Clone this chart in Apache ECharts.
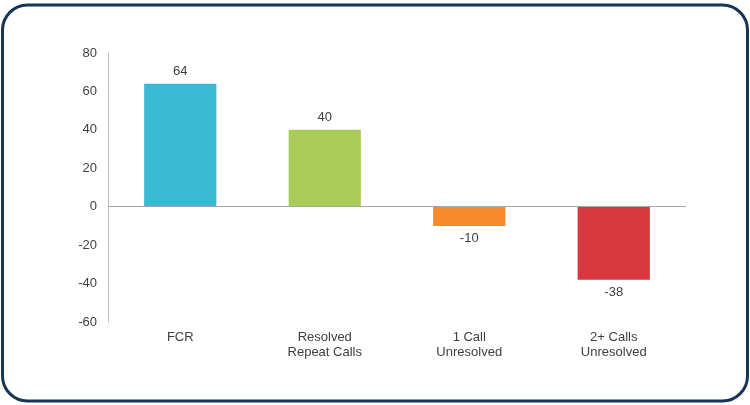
<!DOCTYPE html>
<html>
<head>
<meta charset="utf-8">
<script src="https://cdn.jsdelivr.net/npm/echarts@6/dist/echarts.min.js"></script>
<style>
html,body{margin:0;padding:0;background:#fff;}
#c{width:750px;height:405px;}
</style>
</head>
<body>
<div id="c"></div>
<script>
var categories = ['FCR', 'Resolved\nRepeat Calls', '1 Call\nUnresolved', '2+ Calls\nUnresolved'];
var values = [64, 40, -10, -38];
var colors = ['#3BB8D2', '#A9CB58', '#F68B2C', '#D7393F'];
var yTicks = { min: -60, max: 80, interval: 20 };

var chart = echarts.init(document.getElementById('c'));
chart.setOption({
  animation: false,
  backgroundColor: '#fff',
  graphic: [{
    type: 'rect',
    shape: { x: 2.5, y: 5, width: 745, height: 396, r: 25 },
    style: { fill: 'none', stroke: '#173556', lineWidth: 3 },
    z: 100
  }],
  grid: { left: 108, right: 64, top: 53, bottom: 83 },
  xAxis: {
    type: 'category',
    data: categories,
    position: 'bottom',
    axisLine: { show: false, onZero: false },
    axisTick: { show: false },
    axisLabel: {
      margin: 8,
      color: '#404040',
      fontSize: 13,
      lineHeight: 15,
      fontFamily: 'Liberation Sans, Arial, sans-serif'
    }
  },
  yAxis: {
    type: 'value',
    min: yTicks.min,
    max: yTicks.max,
    interval: yTicks.interval,
    axisLine: { show: true, lineStyle: { color: '#BFBFBF', width: 1 } },
    axisTick: { show: false },
    splitLine: { show: false },
    axisLabel: {
      margin: 11,
      color: '#404040',
      fontSize: 13,
      fontFamily: 'Liberation Sans, Arial, sans-serif'
    }
  },
  series: [{
    type: 'bar',
    barWidth: '50%',
    data: values.map(function (v, i) {
      return {
        value: v,
        itemStyle: { color: colors[i] },
        label: { position: v >= 0 ? 'top' : 'bottom' }
      };
    }),
    label: {
      show: true,
      distance: 6,
      color: '#404040',
      fontSize: 13,
      fontFamily: 'Liberation Sans, Arial, sans-serif'
    },
    markLine: {
      silent: true,
      symbol: 'none',
      label: { show: false },
      lineStyle: { color: '#A6A6A6', type: 'solid', width: 1 },
      data: [{ yAxis: 0 }]
    }
  }]
});
</script>
</body>
</html>
